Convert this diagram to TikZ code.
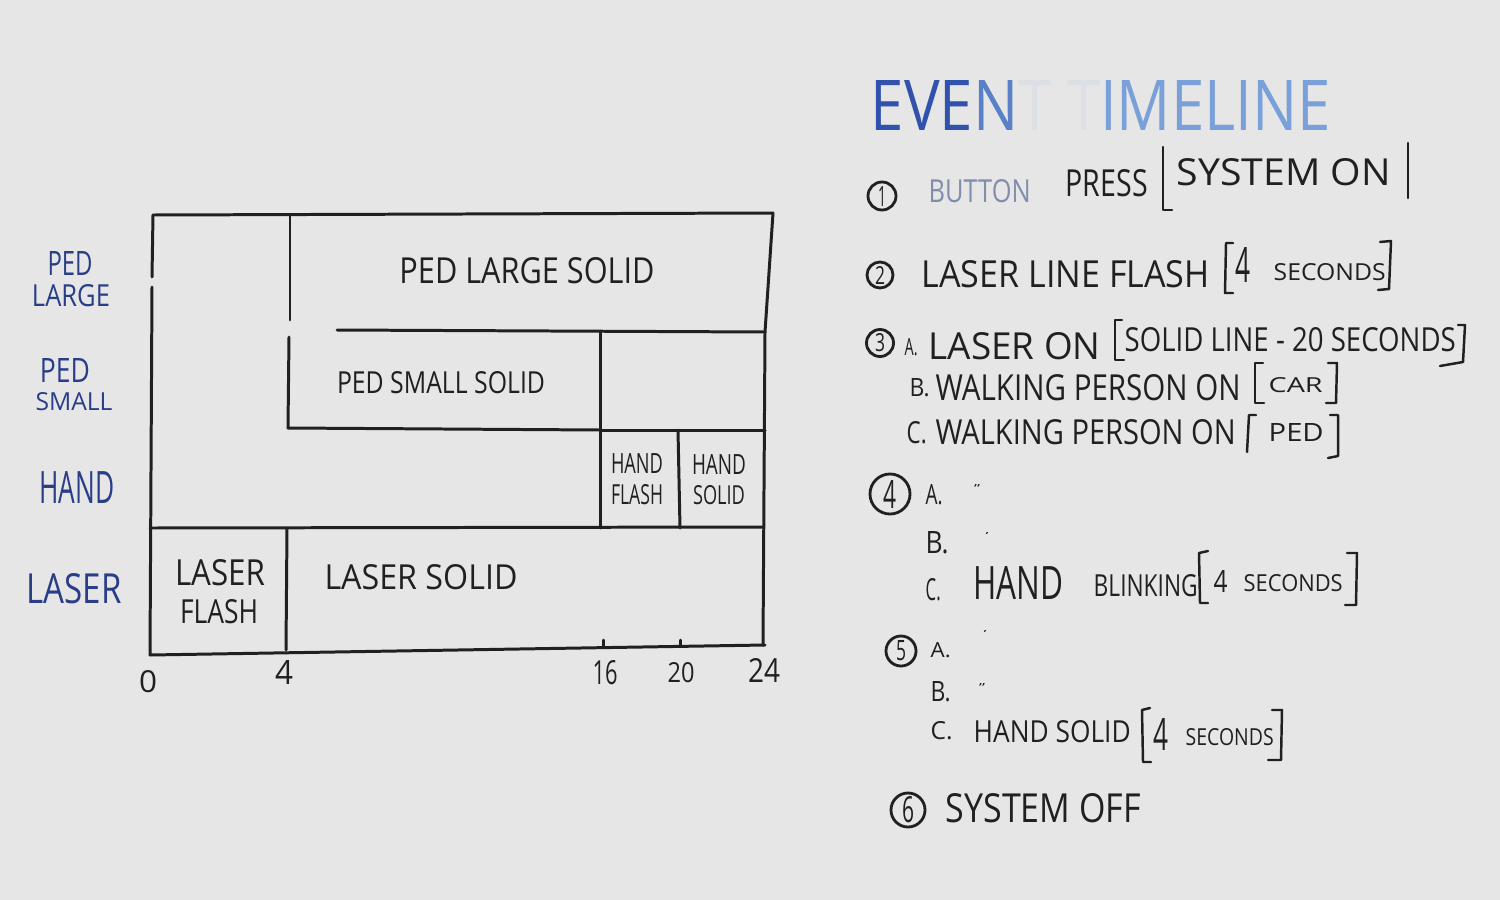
\documentclass[tikz,border=0pt]{standalone}
\usepackage{fontspec}
\setmainfont{Open Sans}
\usepackage{graphicx}
\usepackage{xcolor}
\usetikzlibrary{positioning}

\definecolor{board}{RGB}{230,230,230}
\definecolor{ink}{RGB}{32,32,32}
\definecolor{navy}{RGB}{42,62,135}
\definecolor{tdark}{RGB}{48,82,172}
\definecolor{tmid}{RGB}{90,128,200}
\definecolor{tlight}{RGB}{122,160,218}
\definecolor{tfaint}{RGB}{220,223,230}
\definecolor{faded}{RGB}{128,142,172}

% one pixel of the 1500x900 board
\newlength{\px}\setlength{\px}{0.01cm}
\newcommand{\hw}[3]{\resizebox{#1\px}{#2\px}{#3}}

\begin{document}
\begin{tikzpicture}[x=0.01cm, y=-0.01cm,
    lbl/.style={inner sep=0pt, text=ink},
    lbw/.style={lbl, anchor=west},
    side/.style={inner sep=0pt, text=navy},
    num/.style={circle, draw=ink, line width=0.8pt, inner sep=0pt, text=ink},
    grid/.style={ink, line width=0.85pt, line cap=round, line join=round},
    brk/.style={ink, line width=0.7pt, line cap=round, line join=round}]

    \fill[board] (0,0) rectangle (1500,900);

    % chart frame and rows
    \draw[grid] (153,215) -- (773,213) -- (765,332) -- (763,645);
    \draw[grid] (153,215) -- (152,277);
    \draw[grid] (152,287) -- (150,655) -- (765,645);
    \draw[grid] (290,215) -- (290,320);
    \draw[grid] (289,337) -- (288,428) -- (600,430);
    \draw[grid] (337,330) -- (765,332);
    \draw[grid] (600,332) -- (600,528);
    \draw[grid] (600,430) -- (765,430);
    \draw[grid] (678,430) -- (680,528);
    \draw[grid] (150,528) -- (763,527);
    \draw[grid] (287,528) -- (286,650);
    \draw[grid] (603,640) -- (603,647);
    \draw[grid] (680,640) -- (680,646);

    % labels inside the chart
    \node[lbl] (pedlarge) at (527,271) {\hw{255}{26}{PED LARGE SOLID}};
    \node[lbl] (pedsmall) at (441,383) {\hw{208}{22}{PED SMALL SOLID}};
    \node[lbl] (hflash) at (637,463) {\hw{52}{20}{HAND}};
    \node[lbl] (hflash2) at (637,495) {\hw{52}{20}{FLASH}};
    \node[lbl] (hsolid) at (719,464) {\hw{54}{20}{HAND}};
    \node[lbl] (hsolid2) at (719,495) {\hw{52}{19}{SOLID}};
    \node[lbl] (lflash) at (220,573) {\hw{90}{26}{LASER}};
    \node[lbl] (lflash2) at (219,612) {\hw{78}{24}{FLASH}};
    \node[lbl] (lsolid) at (421,577) {\hw{193}{25}{LASER SOLID}};

    % row names
    \node[side] (rlarge) at (70,263) {\hw{45}{24}{PED}};
    \node[side] (rlarge2) at (71,296) {\hw{78}{22}{LARGE}};
    \node[side] (rsmall) at (65,370) {\hw{50}{24}{PED}};
    \node[side] (rsmall2) at (74,402) {\hw{77}{18}{SMALL}};
    \node[side] (rhand) at (77,487) {\hw{75}{32}{HAND}};
    \node[side] (rlaser) at (74,589) {\hw{95}{30}{LASER}};

    % seconds
    \node[lbl] (s0) at (148,682) {\hw{18}{22}{0}};
    \node[lbl] (s4) at (284,672) {\hw{18}{24}{4}};
    \node[lbl] (s16) at (605,673) {\hw{25}{24}{16}};
    \node[lbl] (s20) at (681,673) {\hw{27}{20}{20}};
    \node[lbl] (s24) at (764,670) {\hw{32}{24}{24}};

    % event list
    \node[inner sep=0pt, anchor=west] (title) at (870,105) {\hw{460}{50}{\textcolor{tdark}{EVE}\textcolor{tmid}{N}\textcolor{tfaint}{T} \textcolor{tfaint}{T}\textcolor{tlight}{IMELINE}}};

    \node[num, minimum size=0.28cm] (n1) at (882,196) {\hw{8}{20}{1}};
    \node[lbw, text=faded] (e1a) at (928,191) {\hw{102}{23}{BUTTON}};
    \node[lbw] (e1b) at (1065,183) {\hw{82}{27}{PRESS}};
    \node[lbw] (e1c) at (1176,172) {\hw{214}{27}{SYSTEM ON}};
    \draw[brk] (1172,210) -- (1163,210) -- (1163,147);
    \draw[brk] (1408,143) -- (1408,198);

    \node[num, minimum size=0.26cm] (n2) at (880,275) {\hw{10}{18}{2}};
    \node[lbw] (e2a) at (921,274) {\hw{288}{27}{LASER LINE FLASH}};
    \node[lbw] (e2b) at (1235,265) {\hw{15}{35}{4}};
    \node[lbw] (e2c) at (1273,272) {\hw{112}{17}{SECONDS}};
    \draw[brk] (1233,243) -- (1226,243) -- (1225,293) -- (1233,293);
    \draw[brk] (1380,242) -- (1391,241) -- (1389,289) -- (1378,290);

    \node[num, minimum size=0.27cm] (n3) at (880,343) {\hw{10}{18}{3}};
    \node[lbw] (e3a) at (904,347) {\hw{13}{17}{A.}};
    \node[lbw] (e3b) at (928,346) {\hw{172}{27}{LASER ON}};
    \node[lbw] (e3c) at (1124,340) {\hw{331}{24}{SOLID LINE - 20 SECONDS}};
    \draw[brk] (1122,320) -- (1115,320) -- (1115,360) -- (1124,360);
    \draw[brk] (1458,325) -- (1465,325) -- (1463,362) -- (1440,366);
    \node[lbw] (e3d) at (909,388) {\hw{20}{18}{B.}};
    \node[lbw] (e3e) at (935,388) {\hw{305}{26}{WALKING PERSON ON}};
    \node[lbw] (e3f) at (1268,385) {\hw{54}{15}{CAR}};
    \draw[brk] (1263,363) -- (1255,363) -- (1255,403) -- (1264,403);
    \draw[brk] (1328,363) -- (1337,363) -- (1336,403) -- (1326,403);
    \node[lbw] (e3g) at (906,433) {\hw{20}{22}{C.}};
    \node[lbw] (e3h) at (935,432) {\hw{300}{25}{WALKING PERSON ON}};
    \node[lbw] (e3i) at (1268,432) {\hw{55}{18}{PED}};
    \draw[brk] (1256,415) -- (1249,415) -- (1247,452);
    \draw[brk] (1330,415) -- (1338,415) -- (1338,456) -- (1328,458);

    \node[num, minimum size=0.40cm] (n4) at (890,494) {\hw{13}{28}{4}};
    \node[lbw] (e4a) at (925,495) {\hw{17}{20}{A.}};
    \node[lbl] (e4b) at (977,488) {\hw{6}{8}{"}};
    \node[lbw] (e4c) at (925,543) {\hw{23}{22}{B.}};
    \node[lbl] (e4d) at (987,535) {\hw{3}{6}{'}};
    \node[lbw] (e4e) at (925,590) {\hw{15}{22}{C.}};
    \node[lbw] (e4f) at (973,583) {\hw{90}{33}{HAND}};
    \node[lbw] (e4g) at (1093,586) {\hw{104}{22}{BLINKING}};
    \node[lbw] (e4h) at (1213,581) {\hw{14}{22}{4}};
    \node[lbw] (e4i) at (1243,583) {\hw{99}{17}{SECONDS}};
    \draw[brk] (1208,551) -- (1199,553) -- (1200,603) -- (1208,603);
    \draw[brk] (1347,553) -- (1357,553) -- (1356,605) -- (1345,605);

    \node[num, minimum size=0.30cm] (n5) at (901,651) {\hw{10}{20}{5}};
    \node[lbw] (e5a) at (930,650) {\hw{20}{15}{A.}};
    \node[lbl] (e5b) at (985,633) {\hw{3}{6}{'}};
    \node[lbw] (e5c) at (930,692) {\hw{20}{20}{B.}};
    \node[lbl] (e5d) at (982,687) {\hw{6}{8}{"}};
    \node[lbw] (e5e) at (930,731) {\hw{22}{18}{C.}};
    \node[lbw] (e5f) at (973,732) {\hw{157}{22}{HAND SOLID}};
    \node[lbw] (e5g) at (1153,734) {\hw{15}{32}{4}};
    \node[lbw] (e5h) at (1185,737) {\hw{88}{17}{SECONDS}};
    \draw[brk] (1150,708) -- (1142,710) -- (1143,762) -- (1151,762);
    \draw[brk] (1272,710) -- (1282,710) -- (1281,760) -- (1268,760);

    \node[num, minimum size=0.34cm] (n6) at (908,810) {\hw{12}{26}{6}};
    \node[lbw] (e6a) at (945,808) {\hw{195}{29}{SYSTEM OFF}};
\end{tikzpicture}
\end{document}
